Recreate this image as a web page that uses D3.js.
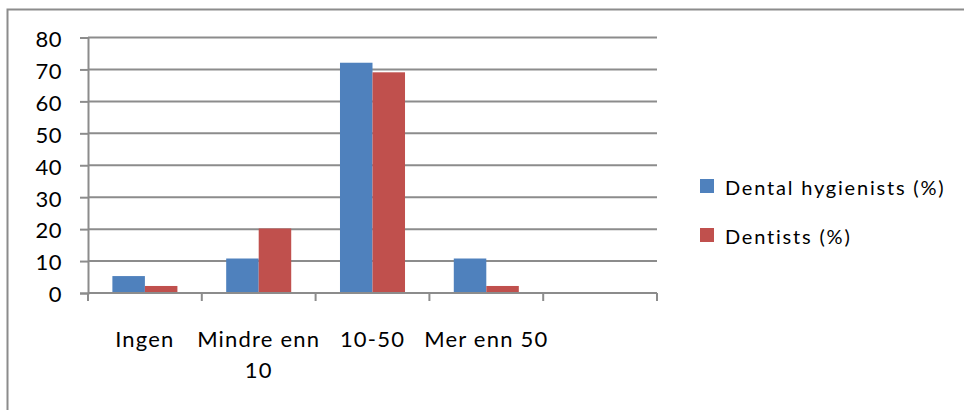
<!DOCTYPE html>
<html>
<head>
<meta charset="utf-8">
<script src="https://cdn.jsdelivr.net/npm/d3@7"></script>
<style>
  html, body { margin: 0; padding: 0; background: #fff; overflow: hidden; }
  svg { display: block; }
  text { font-family: Lato, "Open Sans", sans-serif; fill: #000; }
</style>
</head>
<body>
<svg id="chart" width="964" height="410"></svg>
<script>
// ---- data ----
const categories = ["Ingen", "Mindre enn 10", "10-50", "Mer enn 50", ""];
const seriesNames = ["Dental hygienists (%)", "Dentists (%)"];
const hygienists = [5.3, 10.8, 72.1, 10.8, null];
const dentists = [2.2, 20.2, 69.1, 2.2, null];
const yTicks = [0, 10, 20, 30, 40, 50, 60, 70, 80];
const colors = ["#4F81BD", "#C0504D"];

// ---- layout ----
const plot = { left: 88, right: 657, top: 37.5, bottom: 293 };
const svg = d3.select("#chart");
const LABEL_SIZE = 22, LABEL_LS = "1.2px";

// chart border
svg.append("rect")
  .attr("x", 7.5).attr("y", 9.5).attr("width", 980).attr("height", 430)
  .attr("fill", "#fff").attr("stroke", "#8c8c8c").attr("stroke-width", 2);

const x = d3.scaleBand().domain(categories).range([plot.left, plot.right]).paddingInner(0).paddingOuter(0);
const xs = d3.scaleBand().domain(seriesNames).range([0, x.bandwidth()]).paddingInner(0).paddingOuter(0.75);
const y = d3.scaleLinear().domain([0, 80]).range([plot.bottom, plot.top]);

// gridlines
svg.append("g").selectAll("line").data(yTicks).join("line")
  .attr("x1", plot.left).attr("x2", plot.right)
  .attr("y1", d => y(d)).attr("y2", d => y(d))
  .attr("stroke", "#8c8c8c").attr("stroke-width", 2);

// y axis
const yAxis = svg.append("g").attr("transform", `translate(${plot.left},0)`)
  .call(d3.axisLeft(y).tickValues(yTicks).tickSize(8).tickPadding(18).tickFormat(d3.format("d")));
yAxis.select(".domain").attr("stroke", "#8c8c8c").attr("stroke-width", 2);
yAxis.selectAll(".tick line").attr("stroke", "#8c8c8c").attr("stroke-width", 2);
yAxis.selectAll(".tick text").attr("font-size", LABEL_SIZE).attr("font-family", "Lato, 'Open Sans', sans-serif")
  .attr("dy", "0.4em").style("letter-spacing", "0.5px");

// bars
const rows = categories.map((c, i) => ({ cat: c, vals: [hygienists[i], dentists[i]] }));
const groups = svg.append("g").selectAll("g").data(rows).join("g")
  .attr("transform", d => `translate(${x(d.cat)},0)`);
groups.selectAll("rect").data(d => d.vals.map((v, j) => ({ name: seriesNames[j], v, j })).filter(e => e.v != null))
  .join("rect")
  .attr("x", e => xs(e.name))
  .attr("width", xs.bandwidth())
  .attr("y", e => y(e.v))
  .attr("height", e => y(0) - y(e.v))
  .attr("fill", e => colors[e.j]);

// x axis line and boundary ticks
svg.append("line").attr("x1", plot.left).attr("x2", plot.right)
  .attr("y1", y(0)).attr("y2", y(0)).attr("stroke", "#8c8c8c").attr("stroke-width", 2);
const bounds = categories.map(c => x(c)).concat([x(categories[categories.length - 1]) + x.bandwidth()]);
svg.append("g").selectAll("line").data(bounds).join("line")
  .attr("x1", d => d).attr("x2", d => d)
  .attr("y1", y(0)).attr("y2", y(0) + 8)
  .attr("stroke", "#8c8c8c").attr("stroke-width", 2);

// x labels (wrapped)
const labelG = svg.append("g");
categories.forEach(c => {
  if (!c) return;
  const t = labelG.append("text")
    .attr("x", x(c) + x.bandwidth() / 2).attr("y", 347)
    .attr("text-anchor", "middle").attr("font-size", LABEL_SIZE).style("letter-spacing", LABEL_LS);
  const words = c.split(" ");
  let lines = [], cur = [];
  const probe = svg.append("text").attr("font-size", LABEL_SIZE).style("letter-spacing", LABEL_LS);
  words.forEach(w => {
    const test = cur.concat([w]).join(" ");
    probe.text(test);
    if (probe.node().getComputedTextLength() > x.bandwidth() + 16 && cur.length) {
      lines.push(cur.join(" ")); cur = [w];
    } else cur.push(w);
  });
  lines.push(cur.join(" "));
  probe.remove();
  lines.forEach((l, i) => {
    t.append("tspan").attr("x", x(c) + x.bandwidth() / 2).attr("dy", i === 0 ? 0 : 31).text(l);
  });
});

// legend
const legend = svg.append("g").selectAll("g").data(seriesNames).join("g")
  .attr("transform", (d, i) => `translate(700,${179 + i * 49})`);
legend.append("rect").attr("width", 14).attr("height", 14).attr("fill", (d, i) => colors[i]);
legend.append("text").attr("x", 25).attr("y", 16).attr("font-size", 20)
  .style("letter-spacing", "1.8px").text(d => d);
</script>
</body>
</html>
